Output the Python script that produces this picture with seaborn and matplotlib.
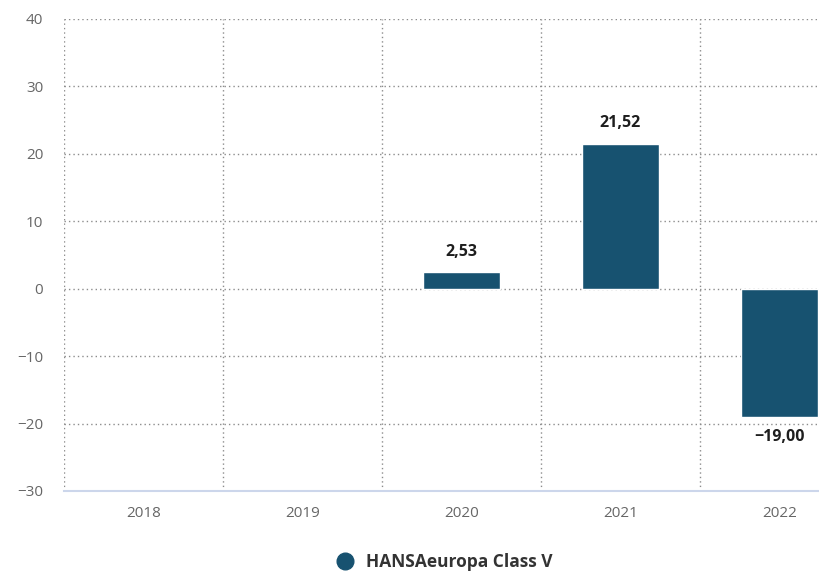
import matplotlib
matplotlib.use("Agg")
import matplotlib.pyplot as plt
from matplotlib.lines import Line2D
import numpy as np
import pandas as pd
import seaborn as sns

# Annual performance per calendar year (%)
years = ["2018", "2019", "2020", "2021", "2022"]
returns = [np.nan, np.nan, 2.53, 21.52, -19.00]
series_name = "HANSAeuropa Class V"
y_ticks = [-30, -20, -10, 0, 10, 20, 30, 40]

bar_color = "#175270"
grid_color = "#8c8c8c"
text_color = "#666666"

sns.set_theme(style="white")
plt.rcParams["font.family"] = ["Open Sans", "DejaVu Sans"]

df = pd.DataFrame({"year": years, "value": returns})

W, H = 819, 577
fig = plt.figure(figsize=(W / 100, H / 100), dpi=100)
left, right, top, bottom = 64, 859, 19, 491
ax = fig.add_axes([left / W, 1 - bottom / H, (right - left) / W, (bottom - top) / H])

sns.barplot(data=df, x="year", y="value", order=years, color=bar_color,
            width=0.48, saturation=1, ax=ax, zorder=3, errorbar=None)

ax.set_xlim(-0.5, len(years) - 0.5)
ax.set_ylim(-30, 40)
ax.set_yticks(y_ticks)
ax.set_yticklabels([str(t).replace("-", "\u2212") for t in y_ticks])

# category boundaries as dotted vertical grid
dots = (0, (1, 2.2))
ax.set_xticks(np.arange(-0.5, len(years) + 0.5, 1), minor=True)
ax.grid(which="minor", axis="x", linestyle=dots, color=grid_color, linewidth=1.0)
ax.grid(which="major", axis="y", linestyle=dots, color=grid_color, linewidth=1.0)
ax.grid(which="major", axis="x", visible=False)
ax.set_axisbelow(True)

for s in ["top", "right", "left"]:
    ax.spines[s].set_visible(False)
ax.spines["bottom"].set_color("#ccd6eb")
ax.spines["bottom"].set_linewidth(1.5)
ax.spines["bottom"].set_zorder(4)

ax.tick_params(axis="both", which="both", length=0, labelsize=11, labelcolor=text_color)
ax.tick_params(axis="y", pad=15)
ax.tick_params(axis="x", pad=11)
ax.set_xlabel("")
ax.set_ylabel("")

# value labels
for i, v in enumerate(returns):
    if np.isnan(v):
        continue
    label = f"{v:.2f}".replace(".", ",").replace("-", "\u2212")
    offset = 14.5 if v >= 0 else -14.5
    ax.annotate(label, (i, v), xytext=(0, offset), textcoords="offset points",
                ha="center", va="center", fontsize=11.5, fontweight="bold",
                color="#1e1e1e", zorder=5)

handle = Line2D([], [], marker="o", linestyle="none", markersize=12,
                markerfacecolor=bar_color, markeredgecolor=bar_color)
fig.legend([handle], [series_name], loc="center", bbox_to_anchor=(440 / W, 1 - 562 / H),
           frameon=False, handletextpad=0.2,
           prop={"size": 12.5, "weight": "bold"}, labelcolor="#333333")

fig.savefig("out.png", dpi=100)
